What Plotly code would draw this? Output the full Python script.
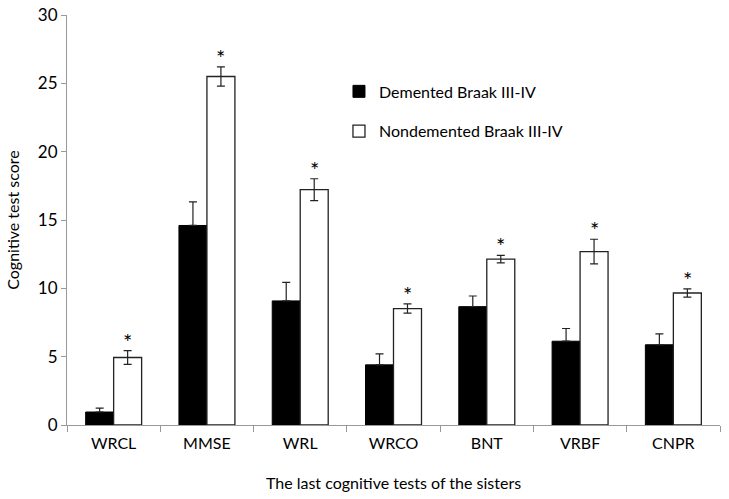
import plotly.graph_objects as go

tests = ['WRCL', 'MMSE', 'WRL', 'WRCO', 'BNT', 'VRBF', 'CNPR']
demented = [0.95, 14.6, 9.08, 4.4, 8.66, 6.13, 5.87]
demented_err = [0.29, 1.73, 1.36, 0.8, 0.78, 0.93, 0.8]
nondemented = [4.94, 25.5, 17.22, 8.52, 12.14, 12.69, 9.66]
nondemented_err = [0.5, 0.7, 0.8, 0.34, 0.27, 0.9, 0.3]

font = 'Lato, Open Sans, sans-serif'

fig = go.Figure()
fig.add_trace(go.Bar(
    x=tests, y=demented, name='Demented Braak III-IV',
    marker=dict(color='black', line=dict(color='black', width=1)),
    error_y=dict(type='data', array=demented_err, arrayminus=[0] * len(tests),
                 color='#222', thickness=1.2, width=4),
    legendgroup='a',
))
fig.add_trace(go.Bar(
    x=tests, y=nondemented, name='Nondemented Braak III-IV',
    marker=dict(color='white', line=dict(color='#222', width=1.3)),
    error_y=dict(type='data', array=nondemented_err, color='#222', thickness=1.2, width=4),
    legendgroup='b',
))

# significance stars above the nondemented bars
for t, v, e in zip(tests, nondemented, nondemented_err):
    fig.add_annotation(x=t, y=v + e, text='*', showarrow=False, xshift=14,
                       yanchor='bottom', yshift=-6,
                       font=dict(family=font, size=22, color='black'))

fig.update_layout(
    width=729, height=499,
    margin=dict(l=67, r=9, t=15, b=74),
    paper_bgcolor='white', plot_bgcolor='white',
    font=dict(family=font, size=16, color='black'),
    barmode='group', bargap=0.4, bargroupgap=0,
    legend=dict(x=0.4165, y=0.855, xanchor='left', yanchor='top',
                traceorder='grouped', tracegroupgap=16,
                font=dict(family=font, size=16), bgcolor='rgba(0,0,0,0)'),
    xaxis=dict(
        title=dict(text='The last cognitive tests of the sisters', standoff=26,
                   font=dict(family=font, size=16)),
        automargin=False,
        showline=True, linecolor='#999', linewidth=1,
        ticks='outside', tickson='boundaries', tickcolor='#999', ticklen=6,
        ticklabelstandoff=4,
        tickfont=dict(family=font, size=16),
    ),
    yaxis=dict(
        title=dict(text='Cognitive test score', standoff=14,
                   font=dict(family=font, size=16)),
        automargin=False,
        range=[0, 30], dtick=5, showgrid=False, zeroline=False,
        showline=True, linecolor='#999', linewidth=1,
        ticks='outside', tickcolor='#999', ticklen=5,
        ticklabeloverflow='allow',
        tickfont=dict(family=font, size=17),
    ),
)

# drop the browser's default body margin so the figure fills the window
fig.write_html('out.html', config={'displayModeBar': False},
               post_script="document.body.style.margin='0';")
